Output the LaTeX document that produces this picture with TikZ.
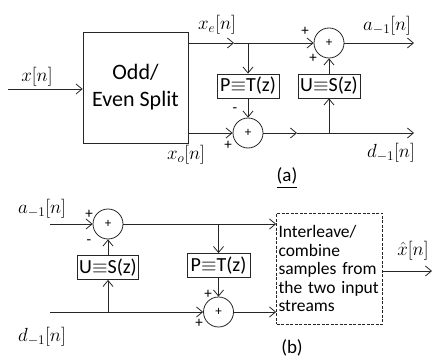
\RequirePackage{fix-cm}
\documentclass[tikz,border=0pt]{standalone}
\usepackage{fontspec}
\usepackage{amsmath}
\usetikzlibrary{positioning,arrows.meta,calc}
\newfontfamily\sansf{Carlito}
\colorlet{ink}{black!85}

\begin{document}
\begin{tikzpicture}[x=1pt, y=-1pt, line width=0.8pt, draw=ink,
    blk/.style={draw=ink, font=\sansf\fontsize{20}{22}\selectfont, inner xsep=2pt,
                inner ysep=1pt, minimum width=62pt, minimum height=24pt},
    bigblk/.style={draw=ink, inner xsep=2pt, inner ysep=2pt},
    sumn/.style={draw=ink, circle, minimum size=30pt, inner sep=0pt,
                 font=\sansf\fontsize{13}{13}\selectfont},
    arr/.style={-{Straight Barb[length=6pt,width=10pt]}, draw=ink},
    lab/.style={font=\fontsize{19}{22}\selectfont, inner sep=0pt},
    sgn/.style={font=\sansf\fontsize{15}{15}\selectfont, inner sep=0pt},
    captxt/.style={font=\sansf\fontsize{19}{21}\selectfont, inner sep=0pt},
  ]
  \useasboundingbox (0,0) rectangle (433,358);

  % (a) forward transform
  \node[bigblk, minimum width=105pt, minimum height=111pt, align=center,
        font=\sansf\fontsize{22}{27}\selectfont] (split) at (135.5,87.5)
    {Odd/\\Even Split};
  \node[sumn] (s1) at (329,43) {+};
  \node[sumn] (s2) at (248,133) {+};
  \node[blk] (P1) at (248,86) {P$\equiv$T(z)};
  \node[blk] (U1) at (329,86) {U$\equiv$S(z)};

  \coordinate (xin) at (8,89);
  \coordinate (xe) at (split.east |- s1);
  \coordinate (xem) at (234,43);
  \coordinate (bP1) at (P1 |- s1);
  \coordinate (xo) at (split.east |- s2);
  \coordinate (dm) at (297,133);
  \coordinate (bU1) at (U1 |- s2);
  \coordinate (aout) at (414,43);
  \coordinate (dout) at (414,133);

  \draw[arr] (xin) -- (xin -| split.west);
  \draw[arr] (xe) -- (xem);
  \draw[arr] (xem) -- (s1);
  \draw[arr] (bP1) -- (P1);
  \draw[arr] (P1) -- (s2);
  \draw[arr] (xo) -- (s2);
  \draw[arr] (s2) -- (dm);
  \draw[arr] (dm) -- (dout);
  \draw[arr] (bU1) -- (U1);
  \draw[arr] (U1) -- (s1);
  \draw[arr] (s1) -- (aout);

  \node[lab] (lx) at (37,77) {$x[n]$};
  \node[lab] (lxe) at (217,25) {$x_e[n]$};
  \node[lab] (la1) at (387,26) {$a_{-1}[n]$};
  \node[lab] (lxo) at (186,155) {$x_o[n]$};
  \node[lab] (ld1) at (391,153) {$d_{-1}[n]$};
  \node[sgn] (sp1) at (305,31) {+};
  \node[sgn] (sp2) at (313,58) {+};
  \node[sgn] (sm1) at (235,110) {-};
  \node[sgn] (sp3) at (228,145) {+};
  \node[captxt] (capa) at (287,178) {\underline{(a)}};

  % (b) inverse transform
  \node[bigblk, dashed, dash pattern=on 3pt off 1.5pt, text width=102pt,
        minimum height=111pt, align=left,
        font=\sansf\fontsize{17.5}{18.5}\selectfont] (comb) at (329.5,268.5)
    {Interleave/\\combine\\samples from\\the two input\\streams};
  \node[sumn] (s3) at (108,224) {+};
  \node[sumn] (s4) at (218.5,312) {+};
  \node[blk, minimum width=60pt] (U2) at (108,267.5) {U$\equiv$S(z)};
  \node[blk, minimum width=63pt] (P2) at (218.5,265.5) {P$\equiv$T(z)};

  \coordinate (ain) at (50,224);
  \coordinate (din) at (50,312);
  \coordinate (bP2) at (P2 |- s3);
  \coordinate (bU2) at (U2 |- din);
  \coordinate (xout) at (432,271);

  \draw[arr] (ain) -- (s3);
  \draw[arr] (s3) -- (s3 -| comb.west);
  \draw[arr] (bP2) -- (P2);
  \draw[arr] (P2) -- (s4);
  \draw[arr] (din) -- (s4);
  \draw[arr] (s4) -- (s4 -| comb.west);
  \draw[arr] (bU2) -- (U2);
  \draw[arr] (U2) -- (s3);
  \draw[arr] (xout -| comb.east) -- (xout);

  \node[lab] (la1b) at (42,209) {$a_{-1}[n]$};
  \node[lab] (ld1b) at (42,337) {$d_{-1}[n]$};
  \node[lab] (lxh) at (413,251) {$\hat{x}[n]$};
  \node[sgn] (sp4) at (89,214) {+};
  \node[sgn] (sm2) at (89,242) {-};
  \node[sgn] (sp5) at (208,294) {+};
  \node[sgn] (sp6) at (199,323) {+};
  \node[captxt] (capb) at (292,350) {\underline{(b)}};
\end{tikzpicture}
\end{document}
